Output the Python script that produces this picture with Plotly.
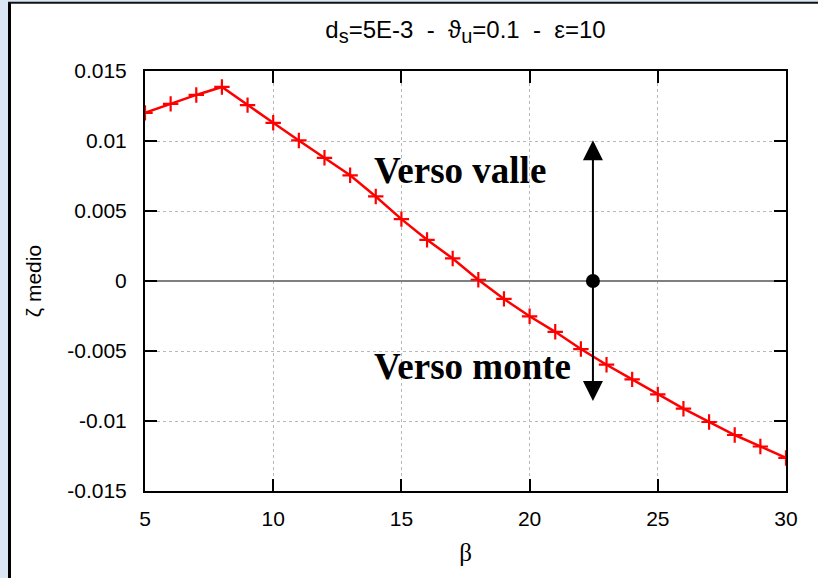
import plotly.graph_objects as go

# Mean bed elevation versus beta
beta = [5, 6, 7, 8, 9, 10, 11, 12, 13, 14, 15, 16, 17, 18,
        19, 20, 21, 22, 23, 24, 25, 26, 27, 28, 29, 30]
zeta_medio = [0.01201, 0.01265, 0.01329, 0.01386, 0.01256, 0.01130,
              0.01004, 0.00880, 0.00755, 0.00604, 0.00442, 0.00294,
              0.00161, 0.00009, -0.00128, -0.00252, -0.00363, -0.00486,
              -0.00598, -0.00703, -0.00810, -0.00912, -0.01007, -0.01100,
              -0.01182, -0.01264]

x_ticks = [5, 10, 15, 20, 25, 30]
y_ticks = [0.015, 0.01, 0.005, 0, -0.005, -0.01, -0.015]
y_ticktext = ["0.015", "0.01", "0.005", "0", "-0.005", "-0.01", "-0.015"]

# Direction indicator (double arrow around the zero level)
arrow_beta = 22.47
arrow_up = 0.01006
arrow_down = -0.00858

W, H = 818, 578
L, R, T, B = 145, 32, 71, 87
pw, ph = W - L - R, H - T - B


def px_x(p):
    return (p - L) / pw


def px_y(p):
    return (H - B - p) / ph


fig = go.Figure()

fig.add_trace(go.Scatter(
    x=beta, y=zeta_medio, mode="lines+markers",
    line=dict(color="#ff0000", width=2.5),
    marker=dict(symbol="cross-thin", size=11,
                line=dict(color="#ff0000", width=2.2)),
    showlegend=False, hoverinfo="skip",
))

fig.add_trace(go.Scatter(
    x=[arrow_beta], y=[0], mode="markers",
    marker=dict(color="black", size=14),
    showlegend=False, hoverinfo="skip",
))

for tip in (arrow_up, arrow_down):
    fig.add_annotation(
        x=arrow_beta, y=tip, ax=arrow_beta, ay=0,
        xref="x", yref="y", axref="x", ayref="y",
        text="", showarrow=True, arrowhead=2, arrowsize=2,
        arrowwidth=2, arrowcolor="black", standoff=0, startstandoff=0,
    )

label_font = dict(family="Liberation Serif, Times New Roman, serif",
                  size=37, color="black")
fig.add_annotation(x=13.85, y=0.0079, xref="x", yref="y",
                   text="<b>Verso valle</b>", showarrow=False,
                   xanchor="left", yanchor="middle", font=label_font)
fig.add_annotation(x=13.85, y=-0.0061, xref="x", yref="y",
                   text="<b>Verso monte</b>", showarrow=False,
                   xanchor="left", yanchor="middle", font=label_font)

# Page frame: light blue margin with a black edge on the left and top
fig.add_shape(type="rect", xref="paper", yref="paper", layer="below",
              x0=px_x(10), x1=px_x(W + 5), y0=px_y(H + 5), y1=px_y(3),
              fillcolor="white", line=dict(width=0))
fig.add_shape(type="line", xref="paper", yref="paper", layer="below",
              x0=px_x(9.5), x1=px_x(9.5), y0=px_y(H + 5), y1=px_y(2),
              line=dict(color="black", width=3))
fig.add_shape(type="line", xref="paper", yref="paper", layer="below",
              x0=px_x(8), x1=px_x(W + 5), y0=px_y(2.8), y1=px_y(2.8),
              line=dict(color="#111111", width=2))

sans = "Liberation Sans, Arial, sans-serif"
tick_font = dict(family=sans, size=21, color="black")
sub = "<sub><span style='font-size:20px'>{}</span></sub>"

fig.update_layout(
    width=W, height=H,
    margin=dict(l=L, r=R, t=T, b=B, pad=0),
    paper_bgcolor="#dae6f3",
    plot_bgcolor="white",
    title=dict(
        text="d" + sub.format("s") + "=5E-3  -  ϑ" + sub.format("u")
             + "=0.1  -  ε=10",
        x=(L + pw / 2) / W, xanchor="center",
        y=1 - 30 / H, yanchor="middle",
        font=dict(family=sans, size=24, color="black"),
    ),
    xaxis=dict(
        range=[5, 30], tickvals=x_ticks,
        ticks="inside", ticklen=12, tickwidth=2, tickcolor="black",
        showline=True, linecolor="black", linewidth=2, mirror="allticks",
        showgrid=True, gridcolor="#b8b8b8", griddash="dot", gridwidth=1,
        zeroline=False, tickfont=tick_font, ticklabelstandoff=8,
        title=dict(text="β", standoff=14,
                   font=dict(family="Liberation Serif, serif", size=25,
                             color="black")),
    ),
    yaxis=dict(
        range=[-0.015, 0.015], tickvals=y_ticks, ticktext=y_ticktext,
        ticks="inside", ticklen=12, tickwidth=2, tickcolor="black",
        showline=True, linecolor="black", linewidth=2, mirror="allticks",
        showgrid=True, gridcolor="#b8b8b8", griddash="dot", gridwidth=1,
        zeroline=True, zerolinecolor="#808080", zerolinewidth=1.5,
        tickfont=tick_font, ticklabelstandoff=12,
        title=dict(text="ζ medio", standoff=20,
                   font=dict(family=sans, size=21, color="black")),
    ),
)

fig.write_html("out.html")
